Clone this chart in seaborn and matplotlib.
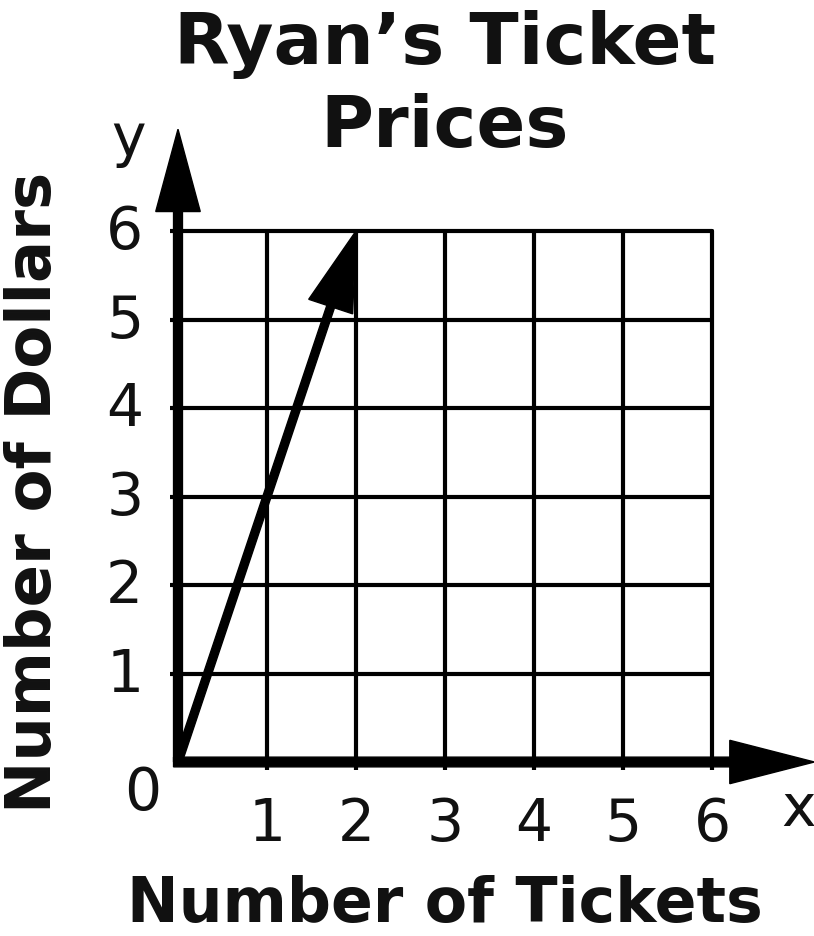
import matplotlib
matplotlib.use('Agg')
import matplotlib.pyplot as plt
import matplotlib.transforms as mtransforms
import seaborn as sns

# dati
tickets = [0, 2]
dollars = [0, 6]
x_ticks = [1, 2, 3, 4, 5, 6]
y_ticks = [1, 2, 3, 4, 5, 6]

sns.set_style('white')
plt.rcParams['font.family'] = ['DejaVu Sans']
plt.rcParams['text.color'] = '#111111'
plt.rcParams['xtick.color'] = 'black'
plt.rcParams['ytick.color'] = 'black'
plt.rcParams['xtick.labelcolor'] = '#111111'
plt.rcParams['ytick.labelcolor'] = '#111111'

W, H = 814, 937
fig = plt.figure(figsize=(W / 100, H / 100), dpi=100)

# area del grafico: origine a (178, 763) px, 6 unita' = 534 x 531 px
ax = fig.add_axes([178 / W, (H - 763) / H, 534 / W, 531 / H])
ax.set_xlim(0, 6)
ax.set_ylim(0, 6)

# griglia
for v in x_ticks:
    ax.axvline(v, color='black', lw=3, clip_on=False, zorder=1)
for v in y_ticks:
    ax.axhline(v, color='black', lw=3, clip_on=False, zorder=1)

for s in ['top', 'right', 'left', 'bottom']:
    ax.spines[s].set_visible(False)

# assi con frecce
ax.arrow(0, 0, 0, 7.15, width=0.1, head_width=0.5, head_length=0.93,
         length_includes_head=True, color='black', clip_on=False, zorder=3)
ax.arrow(-0.05, 0, 7.2, 0, width=0.11, head_width=0.49, head_length=0.95,
         length_includes_head=True, color='black', clip_on=False, zorder=3)

# retta dei prezzi
ax.arrow(tickets[0], dollars[0], tickets[1] - tickets[0], dollars[1] - dollars[0],
         width=0.09, head_width=0.52, head_length=0.9,
         length_includes_head=True, color='black', clip_on=False, zorder=4)

ax.set_xticks(x_ticks)
ax.set_yticks(y_ticks)
ax.tick_params(axis='both', length=6, width=3, direction='out',
               labelsize=42, bottom=True, left=True)
ax.tick_params(axis='x', pad=18)
ax.tick_params(axis='y', pad=19)
ax.set_xticklabels([str(v) for v in x_ticks])
ax.set_yticklabels([str(v) for v in y_ticks])
up = mtransforms.ScaledTranslation(0, 5 / 100, fig.dpi_scale_trans)
for lab in ax.get_yticklabels():
    lab.set_transform(lab.get_transform() + up)

ax.text(-0.4, -0.35, '0', fontsize=42, ha='center', va='center')
ax.text(-0.56, 7.05, 'y', fontsize=42, ha='center', va='center')
ax.text(6.97, -0.52, 'x', fontsize=42, ha='center', va='center')

# titolo e etichette
fig.text(445 / W, 1 - 64 / H, "Ryan\u2019s Ticket", fontsize=52,
         fontweight='bold', ha='center', va='baseline')
fig.text(445 / W, 1 - 147 / H, "Prices", fontsize=52,
         fontweight='bold', ha='center', va='baseline')
fig.text(34 / W, 1 - 492 / H, 'Number of Dollars', fontsize=45,
         fontweight='bold', ha='center', va='center', rotation=90)
fig.text(445 / W, 1 - 922 / H, 'Number of Tickets', fontsize=44.5,
         fontweight='bold', ha='center', va='baseline')

fig.savefig('out.png', dpi=100, facecolor='white')
